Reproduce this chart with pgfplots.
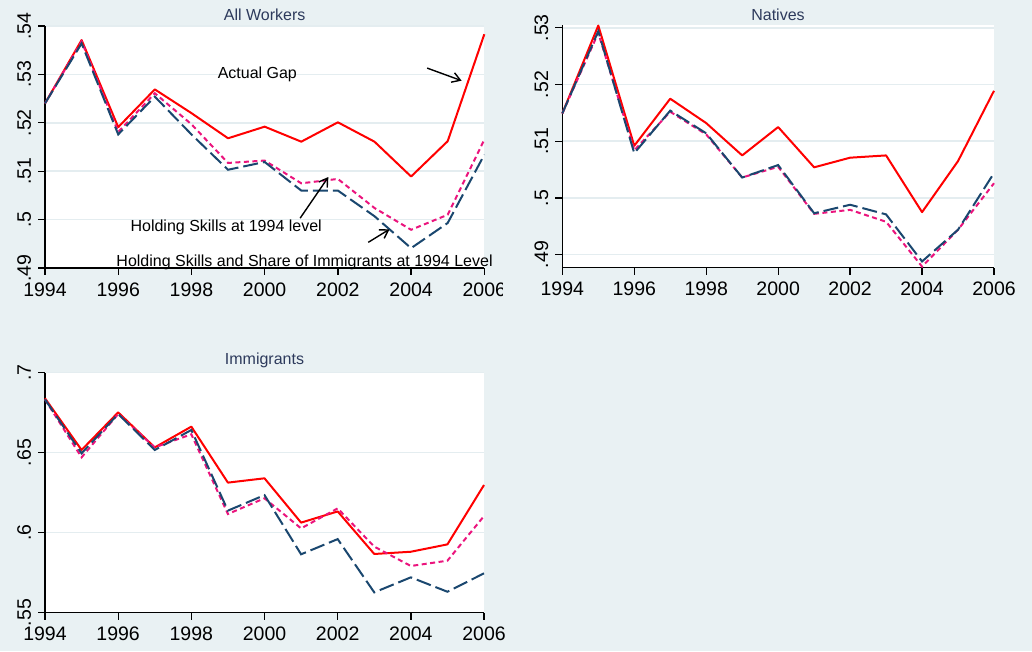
\documentclass[border=0pt]{standalone}
\usepackage{fontspec}
\setmainfont{Liberation Sans}
\usepackage{pgfplots}
\pgfplotsset{compat=1.18}
\usetikzlibrary{arrows.meta}

\definecolor{bgc}{RGB}{233,241,243}
\definecolor{gridc}{RGB}{228,237,240}
\definecolor{actred}{RGB}{255,0,0}
\definecolor{skillpink}{RGB}{235,20,125}
\definecolor{sharenavy}{RGB}{26,71,111}
\definecolor{titlec}{RGB}{45,58,92}

\pgfplotsset{
  panel/.style={
    scale only axis, anchor=south west,
    xmin=1994, xmax=2006,
    axis x line*=bottom, axis y line*=left,
    axis line style={-, black, line width=1.3pt},
    tick style={black, line width=1.3pt},
    tick align=outside, major tick length=7pt,
    xtick={1994,1996,...,2006},
    xticklabels={1994,1996,1998,2000,2002,2004,2006},
    ymajorgrids, grid style={gridc, line width=1.5pt},
    axis background/.style={fill=white},
    tick label style={font=\fontsize{19.5}{22}\selectfont},
    xticklabel style={yshift=-4pt},
    % rotated labels: the local y direction points left
    yticklabel style={rotate=90, anchor=south, yshift=3.5pt},
    clip=false,
  },
}
\tikzset{
  actual/.style={actred, line width=2pt, line join=round},
  skills/.style={skillpink, line width=2pt, dash pattern=on 5pt off 3.5pt},
  share/.style={sharenavy, line width=2pt, dash pattern=on 15pt off 5pt},
  note/.style={font=\fontsize{16}{18}\selectfont, black},
  ptr/.style={black, line width=1.4pt, -{Straight Barb[length=8pt,width=10pt]}},
}

\begin{document}
\begin{tikzpicture}
\fill[bgc] (0pt,0pt) rectangle (1032pt,651pt);
\useasboundingbox (0pt,0pt) rectangle (1032pt,651pt);

% ---------------- All Workers ----------------
\begin{axis}[panel, at={(45pt,383pt)}, width=439.3pt, height=242pt,
  ymin=0.49, ymax=0.54,
  ytick={0.49,0.50,0.51,0.52,0.53,0.54},
  yticklabels={.49,.5,.51,.52,.53,.54}]
\addplot[actual] coordinates {(1994,.5240)(1995,.5371)(1996,.5191)(1997,.5269)(1998,.5220)(1999,.5168)(2000,.5192)(2001,.5161)(2002,.5201)(2003,.5161)(2004,.5089)(2005,.5162)(2006,.5383)};
\addplot[skills] coordinates {(1994,.5240)(1995,.5368)(1996,.5181)(1997,.5261)(1998,.5197)(1999,.5117)(2000,.5122)(2001,.5075)(2002,.5084)(2003,.5024)(2004,.4979)(2005,.5010)(2006,.5165)};
\addplot[share] coordinates {(1994,.5240)(1995,.5364)(1996,.5176)(1997,.5254)(1998,.5176)(1999,.5103)(2000,.5119)(2001,.5060)(2002,.5060)(2003,.5007)(2004,.4941)(2005,.4993)(2006,.5134)};
\node[note, anchor=base] at (axis cs:1999.8,0.5291) {Actual Gap};
\node[note, anchor=base] at (axis cs:1998.95,0.49757) {Holding Skills at 1994 level};
\node[note, anchor=base] at (axis cs:2001.09,0.49034) {Holding Skills and Share of Immigrants at 1994 Level};
\draw[ptr] (axis cs:2004.44,0.5313) -- (axis cs:2005.38,0.5287);
\draw[ptr] (axis cs:2000.97,0.5003) -- (axis cs:2001.74,0.5088);
\draw[ptr] (axis cs:2002.83,0.4953) -- (axis cs:2003.41,0.4980);
\end{axis}
\node[titlec, font=\fontsize{16}{18}\selectfont, anchor=base] at (264.7pt,630pt) {All Workers};

% panel region of the second graph
\fill[bgc] (503pt,330pt) rectangle (1032pt,651pt);

% ---------------- Natives ----------------
\begin{axis}[panel, at={(562.3pt,383.3pt)}, width=431.7pt, height=242.7pt,
  ymin=0.4877, ymax=0.5305,
  ytick={0.49,0.50,0.51,0.52,0.53},
  yticklabels={.49,.5,.51,.52,.53}]
\addplot[actual] coordinates {(1994,.5149)(1995,.5304)(1996,.5092)(1997,.5175)(1998,.5132)(1999,.5075)(2000,.5125)(2001,.5054)(2002,.5071)(2003,.5075)(2004,.4975)(2005,.5065)(2006,.5189)};
\addplot[skills] coordinates {(1994,.5149)(1995,.5291)(1996,.5084)(1997,.5152)(1998,.5112)(1999,.5036)(2000,.5055)(2001,.4972)(2002,.4979)(2003,.4958)(2004,.4879)(2005,.4944)(2006,.5026)};
\addplot[share] coordinates {(1994,.5149)(1995,.5294)(1996,.5079)(1997,.5154)(1998,.5114)(1999,.5036)(2000,.5058)(2001,.4973)(2002,.4988)(2003,.4971)(2004,.4888)(2005,.4944)(2006,.5044)};
\end{axis}
\node[titlec, font=\fontsize{16}{18}\selectfont, anchor=base] at (778pt,630.3pt) {Natives};

% ---------------- Immigrants ----------------
\begin{axis}[panel, at={(45pt,38.3pt)}, width=439pt, height=240pt,
  ymin=0.55, ymax=0.70,
  ytick={0.55,0.60,0.65,0.70},
  yticklabels={.55,.6,.65,.7}]
\addplot[actual] coordinates {(1994,.6840)(1995,.6517)(1996,.6752)(1997,.6533)(1998,.6663)(1999,.6313)(2000,.6340)(2001,.6063)(2002,.6133)(2003,.5867)(2004,.5881)(2005,.5927)(2006,.6298)};
\addplot[skills] coordinates {(1994,.6833)(1995,.6471)(1996,.6742)(1997,.6533)(1998,.6615)(1999,.6117)(2000,.6215)(2001,.6027)(2002,.6152)(2003,.5913)(2004,.5792)(2005,.5825)(2006,.6104)};
\addplot[share] coordinates {(1994,.6833)(1995,.6496)(1996,.6742)(1997,.6517)(1998,.6642)(1999,.6138)(2000,.6235)(2001,.5865)(2002,.5960)(2003,.5627)(2004,.5721)(2005,.5631)(2006,.5746)};
\end{axis}
\node[titlec, font=\fontsize{16}{18}\selectfont, anchor=base] at (264.5pt,287pt) {Immigrants};
\end{tikzpicture}
\end{document}
